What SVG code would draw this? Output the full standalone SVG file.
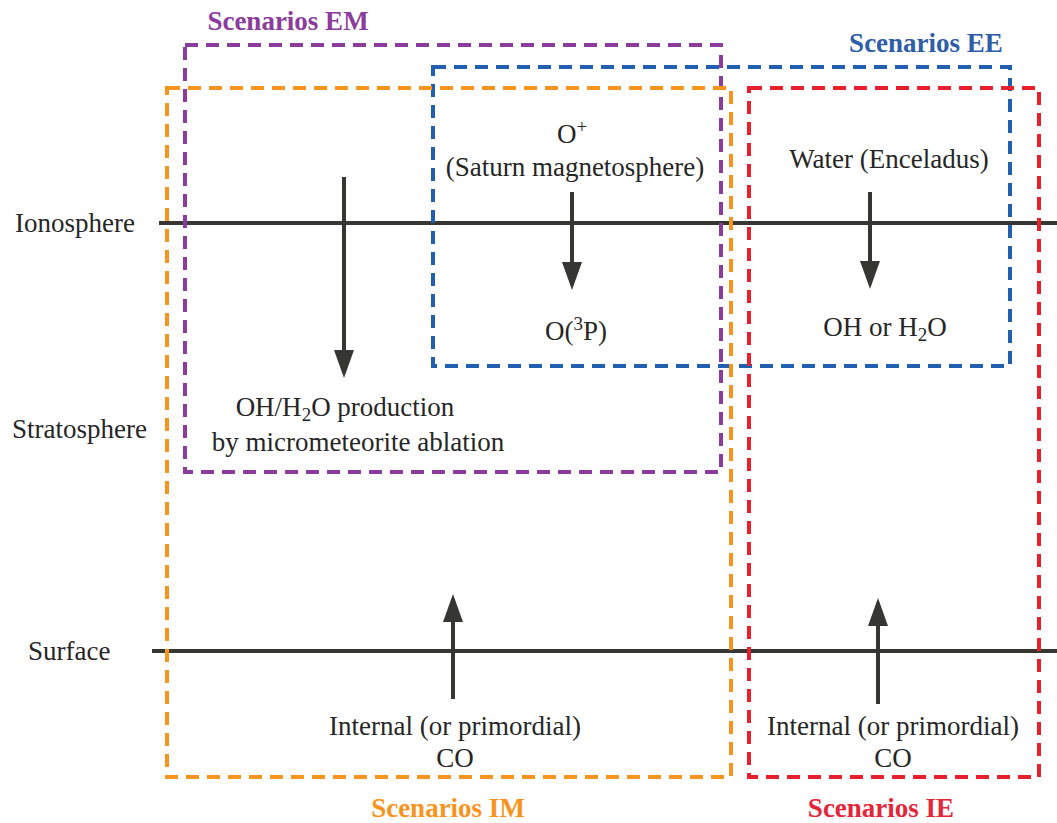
<svg xmlns="http://www.w3.org/2000/svg" width="1057" height="823" viewBox="0 0 1057 823">
<style>
text{font-family:'Liberation Serif','Tinos','Times New Roman','DejaVu Serif',serif;font-size:27px;fill:#262626}
text.lab{font-weight:bold}
text.em{fill:#8b3c9c}
text.ee{fill:#2e5ea8}
text.im{fill:#f7941d}
text.ie{fill:#e3263a}
.box{fill:none;stroke-width:4;stroke-dasharray:13 8}
.lvl{stroke:#363633;stroke-width:4}
.arr{stroke:#363633;stroke-width:4;marker-end:url(#ah)}
</style>
<defs>
<marker id="ah" viewBox="0 0 28 20" refX="0" refY="10" markerWidth="28" markerHeight="20" markerUnits="userSpaceOnUse" orient="auto">
<path d="M0,0 L28,10 L0,20 z" fill="#363633"/>
</marker>
</defs>
<rect width="1057" height="823" fill="#fff"/>
<g id="levels">
<line class="lvl" x1="159" y1="223" x2="1057" y2="223"/>
<line class="lvl" x1="152" y1="651" x2="1057" y2="651"/>
<text x="15" y="232">Ionosphere</text>
<text x="12" y="438">Stratosphere</text>
<text x="28" y="660">Surface</text>
</g>
<g id="scenarios-em">
<rect class="box" x="185" y="45" width="536" height="427" stroke="#8b3c9c"/>
<text class="lab em" x="288" y="30" text-anchor="middle">Scenarios EM</text>
</g>
<g id="scenarios-ee">
<rect class="box" x="433" y="67" width="577" height="299" stroke="#2160b0"/>
<text class="lab ee" x="926" y="52" text-anchor="middle">Scenarios EE</text>
</g>
<g id="scenarios-im">
<rect class="box" x="167" y="88" width="564" height="689" stroke="#f7941d"/>
<text class="lab im" x="448" y="817" text-anchor="middle">Scenarios IM</text>
</g>
<g id="scenarios-ie">
<rect class="box" x="749" y="88" width="290" height="689" stroke="#e8202e"/>
<text class="lab ie" x="881" y="817" text-anchor="middle">Scenarios IE</text>
</g>
<g id="connectors">
<line class="arr" x1="344" y1="177" x2="344" y2="350"/>
<line class="arr" x1="572" y1="192" x2="572" y2="262"/>
<line class="arr" x1="870" y1="192" x2="870" y2="261"/>
<line class="arr" x1="453" y1="699" x2="453" y2="622"/>
<line class="arr" x1="878" y1="704" x2="878" y2="626"/>
</g>
<g id="node-oplus">
<text x="572" y="143" text-anchor="middle">O<tspan font-size="19" dy="-10">+</tspan></text>
<text x="575" y="176" text-anchor="middle">(Saturn magnetosphere)</text>
</g>
<g id="node-o3p">
<text x="576" y="340" text-anchor="middle">O(<tspan font-size="19" dy="-10">3</tspan><tspan dy="10">P)</tspan></text>
</g>
<g id="node-water">
<text x="889" y="168" text-anchor="middle">Water (Enceladus)</text>
</g>
<g id="node-ohh2o">
<text x="885" y="336" text-anchor="middle">OH or H<tspan font-size="19" dy="5">2</tspan><tspan dy="-5">O</tspan></text>
</g>
<g id="node-ablation">
<text x="345" y="416" text-anchor="middle">OH/H<tspan font-size="19" dy="5">2</tspan><tspan dy="-5">O production</tspan></text>
<text x="358" y="451" text-anchor="middle">by micrometeorite ablation</text>
</g>
<g id="node-internal-im">
<text x="455" y="735" text-anchor="middle">Internal (or primordial)</text>
<text x="455" y="767" text-anchor="middle">CO</text>
</g>
<g id="node-internal-ie">
<text x="893" y="735" text-anchor="middle">Internal (or primordial)</text>
<text x="893" y="767" text-anchor="middle">CO</text>
</g>
</svg>
